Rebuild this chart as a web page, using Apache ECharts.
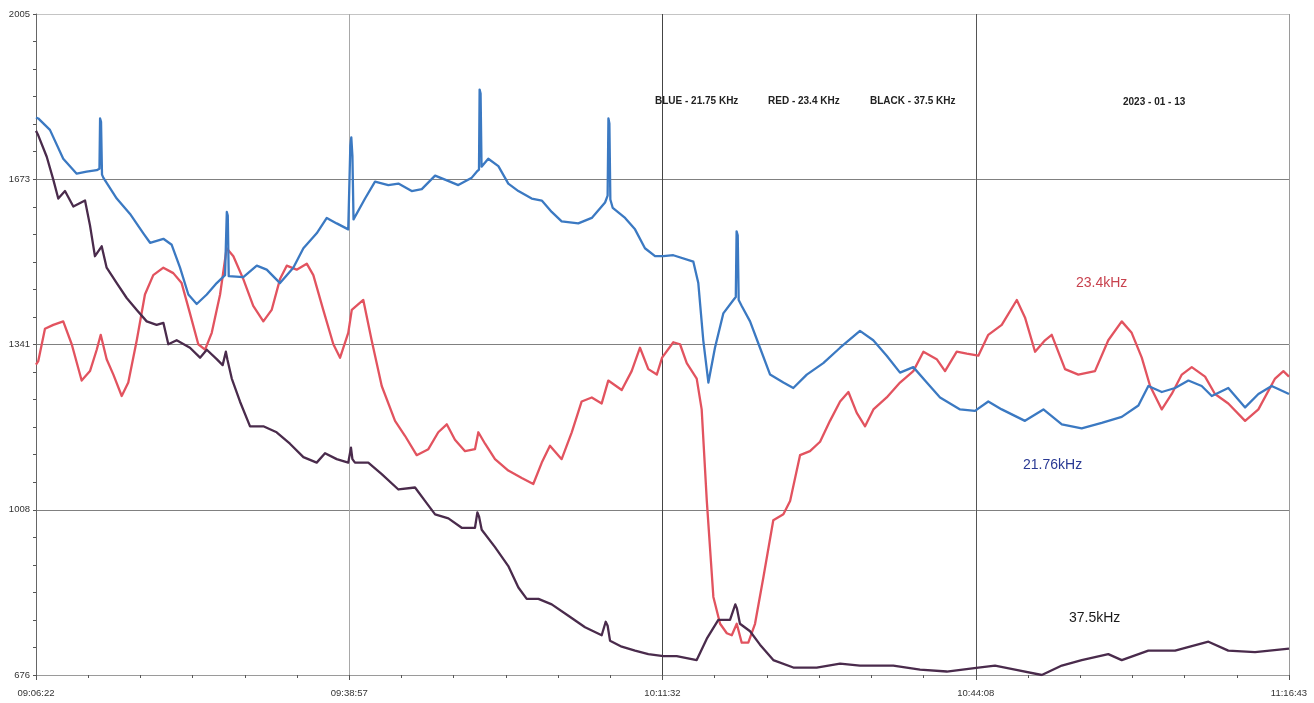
<!DOCTYPE html>
<html>
<head>
<meta charset="utf-8">
<title>VLF signal levels 2023-01-13</title>
<script src="https://cdn.jsdelivr.net/npm/echarts@6/dist/echarts.min.js"></script>
<style>
  html, body { margin: 0; padding: 0; background: #ffffff; }
  #chart { width: 1314px; height: 703px; }
</style>
</head>
<body>
<div id="chart"></div>
<script>
// Time axis: seconds elapsed since 09:06:22, tick labels every 1955.25 s
const timeTickLabels = ['09:06:22', '09:38:57', '10:11:32', '10:44:08', '11:16:43'];
const totalSeconds = 7821;
const levelTicks = [676, 1008, 1341, 1673, 2005];

// 21.75 kHz receiver level  [seconds, level]
const blueSignal = [
  [0,1797],[14,1795],[87,1772],[170,1714],[254,1684],[316,1688],[379,1691],
  [396,1694],[400,1795],[406,1788],[412,1682],
  [420,1676],[504,1634],[587,1603],[670,1564],[712,1545],[795,1553],[847,1541],[899,1495],[951,1441],[1003,1422],[1066,1441],[1128,1464],[1180,1480],
  [1188,1482],[1191,1607],[1197,1600],[1203,1478],
  [1211,1476],[1294,1476],[1378,1499],[1440,1491],[1523,1464],[1606,1495],[1669,1534],[1752,1564],[1815,1595],[1877,1584],[1949,1572],
  [1958,1576],[1962,1740],[1968,1757],[1975,1720],[1982,1592],
  [2054,1634],[2116,1668],[2199,1661],[2262,1664],[2345,1649],[2408,1653],[2491,1680],[2553,1672],[2636,1661],[2720,1676],[2751,1688],
  [2765,1692],[2769,1853],[2775,1845],[2781,1698],
  [2823,1714],[2886,1699],[2948,1664],[3011,1649],[3094,1634],[3157,1630],[3219,1607],[3281,1588],[3385,1584],[3469,1595],[3552,1626],
  [3568,1640],[3573,1795],[3579,1785],[3585,1632],
  [3600,1615],[3677,1595],[3739,1572],[3801,1534],[3864,1518],[3916,1518],[3978,1520],[4103,1507],[4134,1464],[4165,1349],[4197,1264],[4238,1334],[4290,1403],[4353,1430],
  [4368,1436],[4373,1568],[4380,1560],[4386,1430],
  [4405,1418],[4457,1387],[4519,1334],[4582,1280],[4665,1264],[4727,1253],[4811,1280],[4914,1303],[5019,1334],[5143,1368],[5226,1349],[5310,1318],[5393,1284],[5476,1295],[5560,1264],[5643,1234],[5768,1210],[5861,1207],[5944,1226],[6028,1210],[6173,1187],[6288,1210],[6403,1180],[6527,1172],[6652,1183],[6777,1195],[6881,1218],[6943,1257],[7027,1245],[7110,1253],[7193,1268],[7276,1257],[7339,1237],[7442,1253],[7547,1214],[7630,1241],[7713,1257],[7821,1241]
];

// 23.4 kHz receiver level  [seconds, level]
const redSignal = [
  [0,1300],[14,1307],[56,1372],[108,1380],[170,1387],[223,1341],[285,1268],[337,1287],[379,1330],[404,1360],[441,1311],[483,1280],[535,1237],[576,1264],[629,1349],[680,1441],[732,1480],[795,1495],[857,1484],[909,1464],[961,1403],[1013,1341],[1055,1330],[1097,1364],[1149,1441],[1190,1534],[1232,1518],[1294,1472],[1356,1418],[1419,1387],[1471,1410],[1523,1472],[1565,1499],[1627,1491],[1690,1503],[1731,1480],[1793,1410],[1856,1341],[1898,1314],[1949,1364],[1971,1410],[2043,1430],[2095,1349],[2158,1257],[2241,1187],[2303,1157],[2376,1118],[2449,1130],[2511,1164],[2564,1180],[2615,1149],[2678,1126],[2740,1130],[2761,1164],[2803,1141],[2865,1110],[2948,1087],[3032,1072],[3104,1060],[3157,1103],[3208,1137],[3281,1110],[3344,1164],[3406,1226],[3469,1234],[3531,1222],[3572,1268],[3656,1249],[3718,1287],[3770,1334],[3822,1291],[3875,1280],[3908,1314],[3978,1345],[4020,1341],[4062,1303],[4124,1272],[4155,1210],[4187,1026],[4228,833],[4270,779],[4312,760],[4343,756],[4374,779],[4405,741],[4446,741],[4488,779],[4540,872],[4602,987],[4665,999],[4707,1026],[4769,1118],[4831,1126],[4894,1145],[4956,1187],[5019,1226],[5071,1245],[5123,1203],[5175,1176],[5227,1210],[5310,1234],[5393,1264],[5476,1287],[5539,1326],[5622,1311],[5674,1287],[5747,1326],[5810,1322],[5882,1318],[5944,1360],[6028,1380],[6122,1430],[6173,1395],[6236,1326],[6298,1349],[6340,1360],[6423,1291],[6506,1280],[6610,1287],[6693,1349],[6777,1387],[6839,1364],[6902,1314],[6954,1257],[7027,1210],[7089,1241],[7152,1280],[7214,1295],[7297,1276],[7359,1241],[7442,1222],[7547,1187],[7630,1210],[7734,1272],[7786,1287],[7821,1276]
];

// 37.5 kHz receiver level  [seconds, level]
const blackSignal = [
  [0,1770],[14,1761],[67,1718],[108,1672],[139,1634],[181,1649],[233,1618],[306,1630],[337,1580],[368,1518],[410,1538],[441,1495],[504,1464],[566,1434],[629,1410],[691,1387],[753,1380],[795,1384],[826,1341],[878,1349],[961,1334],[1024,1314],[1066,1330],[1128,1311],[1165,1299],[1185,1326],[1195,1310],[1222,1272],[1273,1226],[1336,1176],[1419,1176],[1502,1164],[1585,1141],[1669,1114],[1752,1103],[1804,1122],[1877,1110],[1949,1103],[1966,1133],[1975,1110],[1991,1103],[2074,1103],[2158,1080],[2262,1049],[2366,1053],[2428,1026],[2491,999],[2574,991],[2657,972],[2740,972],[2755,1003],[2765,995],[2782,968],[2865,933],[2948,895],[3011,852],[3063,829],[3136,829],[3219,818],[3323,795],[3427,772],[3531,756],[3556,783],[3568,775],[3583,745],[3656,733],[3739,725],[3822,718],[3916,714],[3999,714],[4124,706],[4187,749],[4259,787],[4332,787],[4365,818],[4375,810],[4394,779],[4457,764],[4519,737],[4602,706],[4727,691],[4873,691],[5019,699],[5143,695],[5351,695],[5518,687],[5685,683],[5882,691],[5986,695],[6111,687],[6278,676],[6403,695],[6527,706],[6693,718],[6777,706],[6943,725],[7110,725],[7318,743],[7442,725],[7609,722],[7821,729]
];

const FONT = '"Liberation Sans", Arial, sans-serif';
const xStep = totalSeconds / (timeTickLabels.length - 1);
const yMin = levelTicks[0];
const yMax = levelTicks[levelTicks.length - 1];
const yStep = (yMax - yMin) / (levelTicks.length - 1);

const chart = echarts.init(document.getElementById('chart'), null, { renderer: 'canvas' });

function line(name, data, color) {
  return {
    name: name,
    type: 'line',
    data: data,
    showSymbol: false,
    symbol: 'none',
    silent: true,
    animation: false,
    lineStyle: { color: color, width: 2.3, join: 'round' },
    z: 3
  };
}

chart.setOption({
  backgroundColor: '#ffffff',
  animation: false,
  grid: { left: 36, right: 25, top: 14, bottom: 28, containLabel: false },
  xAxis: {
    type: 'value',
    min: 0,
    max: totalSeconds,
    interval: xStep,
    axisLine: { show: true, lineStyle: { color: '#9a9a9a', width: 1 } },
    axisTick: { show: true, length: 5, lineStyle: { color: '#555' } },
    minorTick: { show: true, splitNumber: 6, length: 3, lineStyle: { color: '#555' } },
    axisLabel: {
      margin: 13,
      fontSize: 9.5,
      fontFamily: FONT,
      color: '#333',
      formatter: function (v) { return timeTickLabels[Math.round(v / xStep)]; }
    },
    splitLine: {
      show: true,
      lineStyle: { color: ['#888', '#a8a8a8', '#444', '#555', '#9a9a9a'], width: 1 }
    }
  },
  yAxis: {
    type: 'value',
    min: yMin,
    max: yMax,
    interval: yStep,
    axisLine: { show: true, lineStyle: { color: '#666', width: 1 } },
    axisTick: { show: true, length: 3, lineStyle: { color: '#555' } },
    minorTick: { show: true, splitNumber: 6, length: 3, lineStyle: { color: '#555' } },
    axisLabel: {
      margin: 6,
      fontSize: 9.5,
      fontFamily: FONT,
      color: '#333',
      formatter: function (v) { return levelTicks[Math.round((v - yMin) / yStep)]; }
    },
    splitLine: {
      show: true,
      lineStyle: { color: ['#9a9a9a', '#808080', '#808080', '#808080', '#c4c4c4'], width: 1 }
    }
  },
  series: [
    line('23.4kHz', redSignal, '#e2535f'),
    line('21.76kHz', blueSignal, '#3b79c2'),
    line('37.5kHz', blackSignal, '#4a2b4c')
  ],
  graphic: [
    { type: 'text', left: 655, top: 96, style: { text: 'BLUE - 21.75 KHz', fontSize: 10, fontWeight: 'bold', fontFamily: FONT, fill: '#222' } },
    { type: 'text', left: 768, top: 96, style: { text: 'RED - 23.4 KHz', fontSize: 10, fontWeight: 'bold', fontFamily: FONT, fill: '#222' } },
    { type: 'text', left: 870, top: 96, style: { text: 'BLACK - 37.5 KHz', fontSize: 10, fontWeight: 'bold', fontFamily: FONT, fill: '#222' } },
    { type: 'text', left: 1123, top: 97, style: { text: '2023 - 01 - 13', fontSize: 10, fontWeight: 'bold', fontFamily: FONT, fill: '#222' } },
    { type: 'text', left: 1076, top: 276, style: { text: '23.4kHz', fontSize: 14, fontFamily: FONT, fill: '#c8424e' } },
    { type: 'text', left: 1023, top: 458, style: { text: '21.76kHz', fontSize: 14, fontFamily: FONT, fill: '#2a3a94' } },
    { type: 'text', left: 1069, top: 611, style: { text: '37.5kHz', fontSize: 14, fontFamily: FONT, fill: '#1a1a1a' } }
  ]
});
</script>
</body>
</html>
